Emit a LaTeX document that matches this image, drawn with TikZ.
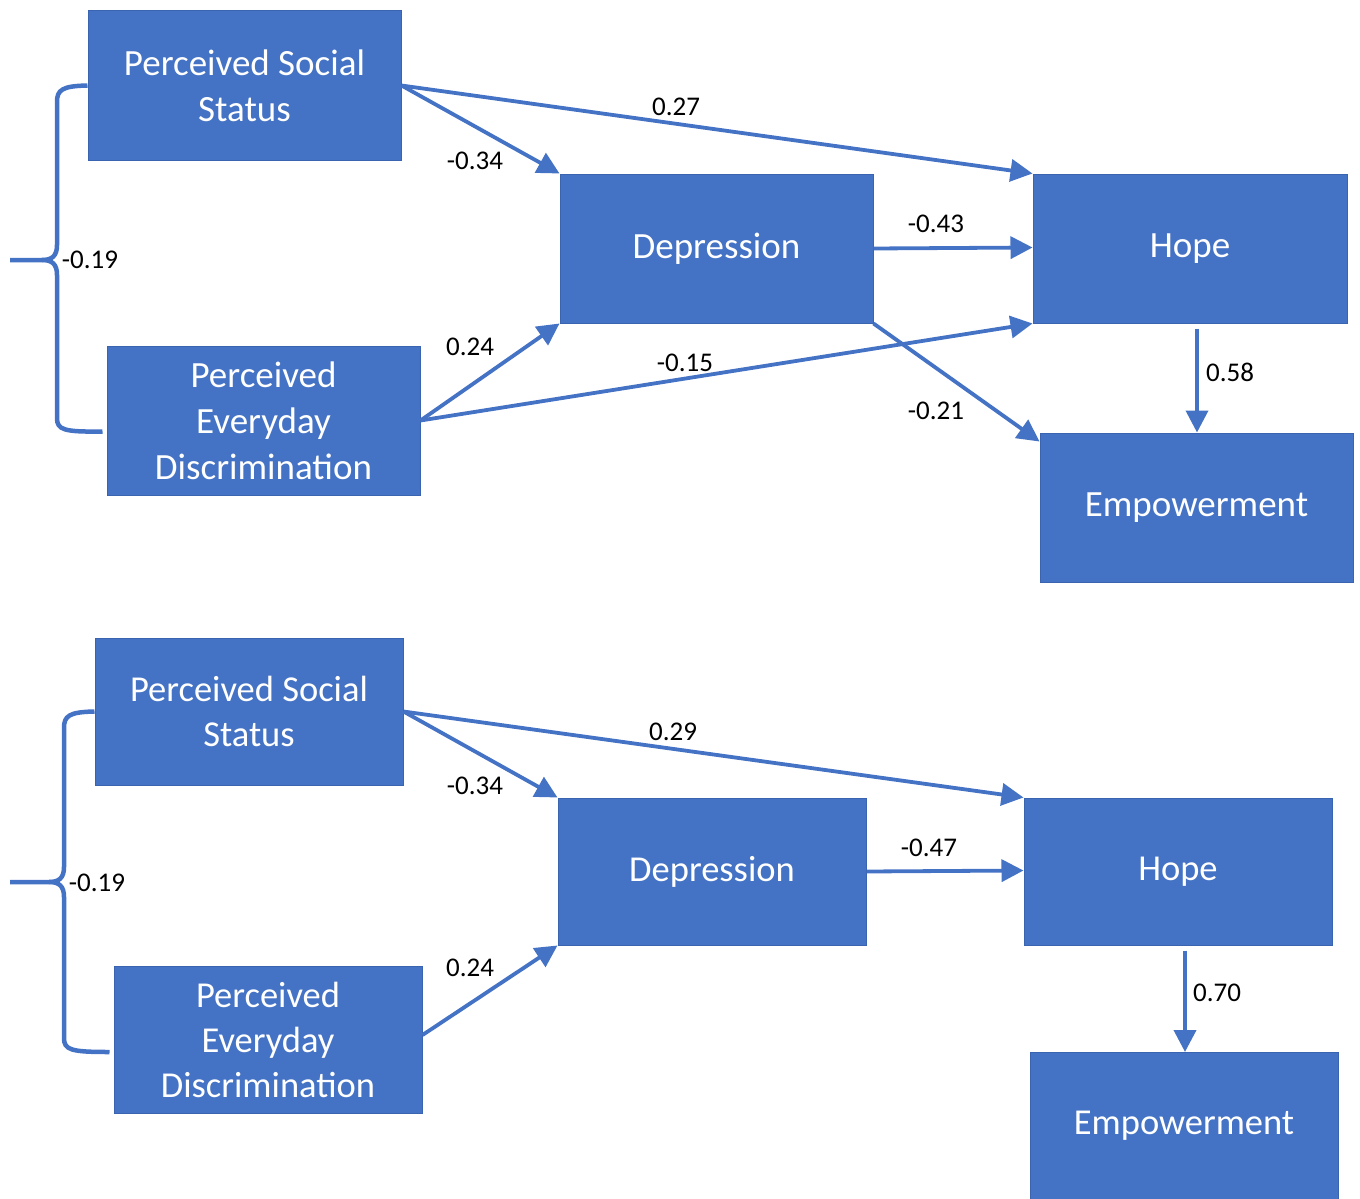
\documentclass[tikz,border=0pt]{standalone}
\usepackage{fontspec}
\setmainfont{Carlito}
\usetikzlibrary{arrows.meta}
\definecolor{boxblue}{HTML}{4472C4}
\definecolor{boxedge}{HTML}{3A64B0}

\begin{document}
\begin{tikzpicture}[x=1pt, y=-1pt,
box/.style={rectangle, draw=boxedge, line width=1pt, fill=boxblue, text=white, inner sep=0pt, align=center, minimum width=313pt, minimum height=149pt, font=\fontsize{37}{46}\selectfont},
boxlow/.style={box, minimum width=308pt, minimum height=147pt, font=\fontsize{36.5}{45}\selectfont},
arr/.style={draw=boxblue, line width=3.8pt, -{Triangle[length=22pt,width=22pt]}},
brace/.style={draw=boxblue, line width=4.5pt},
lbl/.style={inner sep=0pt, font=\fontsize{27}{32}\selectfont}
]
\useasboundingbox (0,0) rectangle (1360,1199);
%Nodes (first model)
\node[box] (pss1) at (244.5,85.5)  {Perceived Social\\Status};
\node[box] (ped1) at (263.5,420.5) {Perceived\\Everyday\\Discrimination};
\node[box] (dep1) at (716.5,248.5) {Depression};
\node[box, minimum width=314pt] (hope1) at (1190,248.5) {Hope};
\node[box] (emp1) at (1196.5,507.5) {Empowerment};
%Lines (first model)
\draw[arr] (pss1.east) -- (dep1.north west);
\draw[arr] (pss1.east) -- (hope1.north west);
\draw[arr] (dep1.east) -- ([yshift=1pt]hope1.west);
\draw[arr] (ped1.east) -- (dep1.south west);
\draw[arr] (ped1.east) -- (hope1.south west);
\draw[arr] (dep1.south east) -- ([yshift=-9pt]emp1.north west);
\draw[arr] ([xshift=7pt,yshift=-5pt]hope1.south) -- ([xshift=0.5pt]emp1.north);
\draw[brace] (pss1.west) .. controls (62,86) and (57,90) .. (57,102) -- (57,245)
  .. controls (57,256) and (52,260) .. (42,260) -- (10,260);
\draw[brace] ([xshift=-4pt,yshift=-11pt]ped1.west) .. controls (64,432) and (57,430) .. (57,418) -- (57,275)
  .. controls (57,264) and (52,260) .. (42,260);
\node[lbl] (l1) at (475,161) {-0.34};
\node[lbl] (l2) at (676,107) {0.27};
\node[lbl] (l3) at (936,224) {-0.43};
\node[lbl] (l4) at (470,347) {0.24};
\node[lbl] (l5) at (685,363) {-0.15};
\node[lbl] (l6) at (936,411) {-0.21};
\node[lbl] (l7) at (1230,372) {0.58};
\node[lbl] (l8) at (90,260) {-0.19};
%Nodes (second model)
\node[boxlow] (pss2) at (249,711.5)  {Perceived Social\\Status};
\node[boxlow] (ped2) at (268,1040)   {Perceived\\Everyday\\Discrimination};
\node[boxlow] (dep2) at (712,871.5)  {Depression};
\node[boxlow] (hope2) at (1178,871.5) {Hope};
\node[boxlow] (emp2) at (1184,1126)  {Empowerment};
%Lines (second model)
\draw[arr] (pss2.east) -- (dep2.north west);
\draw[arr] (pss2.east) -- (hope2.north west);
\draw[arr] (dep2.east) -- ([yshift=1pt]hope2.west);
\draw[arr] ([yshift=5pt]ped2.east) -- (dep2.south west);
\draw[arr] ([xshift=7pt,yshift=-5pt]hope2.south) -- ([xshift=1pt]emp2.north);
\draw[brace] (pss2.west) .. controls (69,712) and (64,716) .. (64,728) -- (64,867)
  .. controls (64,878) and (59,882) .. (49,882) -- (10,882);
\draw[brace] ([xshift=-4pt,yshift=-12pt]ped2.west) .. controls (71,1052) and (64,1050) .. (64,1038) -- (64,897)
  .. controls (64,886) and (59,882) .. (49,882);
\node[lbl] (m1) at (475,786) {-0.34};
\node[lbl] (m2) at (673,732) {0.29};
\node[lbl] (m3) at (929,848) {-0.47};
\node[lbl] (m4) at (470,968) {0.24};
\node[lbl] (m5) at (1217,993) {0.70};
\node[lbl] (m6) at (97,883) {-0.19};
\end{tikzpicture}
\end{document}
